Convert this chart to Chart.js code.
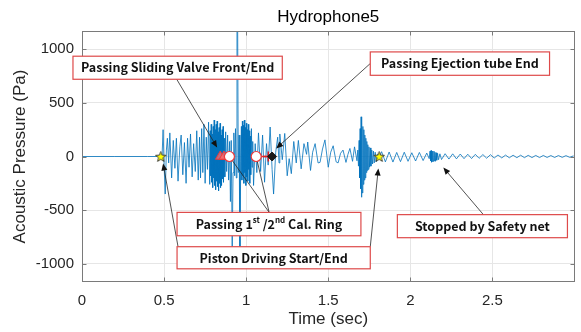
<!DOCTYPE html>
<html>
<head>
<meta charset="utf-8">
<script src="https://cdn.jsdelivr.net/npm/chart.js@4.4.0/dist/chart.umd.min.js"></script>
<style>
  html, body { margin: 0; padding: 0; background: #fff; }
  #wrap { width: 581px; height: 332px; }
</style>
</head>
<body>
<div id="wrap"><canvas id="chart" width="581" height="332"></canvas></div>
<script>
// Ticks del eje
const xTicks = [0, 0.5, 1, 1.5, 2, 2.5];
const yTicks = [-1000, -500, 0, 500, 1000];

// Señal del hidrófono, por tramos: [tiempo (s), presión (Pa)]
const preDrive = [[0, 0], [0.2, 0], [0.4, 0], [0.484, 0]];

const pistonRun = [
  [0.488, 20], [0.494, 250], [0.5, -80], [0.507, -350], [0.514, 60], [0.52, 170],
  [0.528, -60], [0.535, 220], [0.546, -200], [0.556, 150], [0.566, -110], [0.575, 170],
  [0.585, -230], [0.596, 90], [0.604, 200], [0.614, -170], [0.624, 130], [0.634, -250],
  [0.643, 170], [0.652, -100], [0.661, 210], [0.671, -190], [0.68, 120], [0.69, -140],
  [0.699, 240], [0.708, -220], [0.716, 180]
];

const valveZone = [
  [0.722, -200], [0.729, 260], [0.736, -150], [0.743, 300], [0.75, -250], [0.757, 180],
  [0.764, -120], [0.771, 320], [0.778, -260], [0.781, 240], [0.784, -180], [0.787, 300],
  [0.79, -240], [0.793, 210], [0.796, -290], [0.799, 280], [0.802, -200], [0.805, 340],
  [0.808, -270], [0.811, 250], [0.814, -310], [0.817, 300], [0.82, -230], [0.823, 330],
  [0.826, -280], [0.829, 230], [0.832, -320], [0.835, 270], [0.838, -250], [0.841, 310],
  [0.844, -290], [0.847, 200], [0.85, -270], [0.853, 250], [0.856, -210], [0.859, 280],
  [0.862, -240], [0.866, 170], [0.87, -190], [0.875, 230], [0.881, -140], [0.887, 200],
  [0.893, -220], [0.899, 140]
];

const spikeZone = [
  [0.904, -420], [0.909, 150], [0.915, -870], [0.92, -150], [0.925, 220], [0.93, -180],
  [0.935, 260], [0.94, -200], [0.944, 1350], [0.948, 1300], [0.952, -150], [0.957, 200],
  [0.962, -925], [0.967, -50], [0.971, 280]
];

const tubeZone = [
  [0.974, -220], [0.977, 330], [0.98, -180], [0.983, 290], [0.986, -250], [0.989, 340],
  [0.992, -150], [0.995, 270], [0.998, -270], [1.001, 310], [1.004, -190], [1.007, 250],
  [1.01, -230], [1.013, 300], [1.016, -120], [1.019, 240], [1.022, -250], [1.025, 190],
  [1.028, -170], [1.032, 260], [1.036, -100], [1.04, 140], [1.045, -270], [1.055, 120],
  [1.065, -150], [1.075, 220], [1.088, -140], [1.1, 200], [1.112, -240], [1.124, 120],
  [1.134, -80], [1.146, 275], [1.158, -120], [1.167, -350], [1.18, 40], [1.192, 180],
  [1.2, -60]
];

const decayZone = [
  [1.205, 210], [1.22, -30], [1.235, 215], [1.25, -180], [1.262, -20], [1.275, -160],
  [1.29, 140], [1.305, -60], [1.318, 150], [1.335, -115], [1.352, 120], [1.368, 20],
  [1.375, 135], [1.392, -130], [1.405, 40], [1.42, 120], [1.438, -60], [1.45, -55],
  [1.465, 70], [1.48, 155], [1.5, -100], [1.515, 40], [1.53, 100], [1.548, -50],
  [1.56, -60], [1.575, 30], [1.59, 60], [1.608, -55], [1.62, 20], [1.632, 75],
  [1.648, -45], [1.66, 90], [1.675, -40]
];

const exitBurst = [
  [1.68, 60], [1.684, -90], [1.688, 150], [1.691, -200], [1.694, 260], [1.697, -300],
  [1.7, 370], [1.702, -380], [1.705, 330], [1.708, -340], [1.711, 280], [1.714, -260],
  [1.717, 250], [1.72, -220], [1.723, 200], [1.726, -200], [1.729, 170], [1.732, -150],
  [1.735, 140], [1.738, -130], [1.741, 110], [1.744, -120], [1.748, 90], [1.752, -100],
  [1.756, 80], [1.76, -90], [1.765, 60], [1.77, -70], [1.775, 50], [1.78, -60],
  [1.786, 40], [1.792, -50], [1.8, 20]
];

const tailZone = [
  [1.812, 0], [1.825, 45], [1.848, -50], [1.871, 42], [1.894, -52], [1.917, 38],
  [1.94, -48], [1.963, 40], [1.986, -45], [2.009, 35], [2.032, -42], [2.055, 38],
  [2.078, -38], [2.1, 32], [2.115, -20]
];

const netZone = [
  [2.12, 50], [2.123, -40], [2.126, 56], [2.129, -53], [2.132, 50], [2.135, -50],
  [2.138, 45], [2.141, -45], [2.144, 50], [2.147, -40], [2.15, 40], [2.153, -45],
  [2.157, 35], [2.161, -35], [2.166, 30], [2.172, -30], [2.18, 25]
];

const endTail = [
  [2.19, -28], [2.212, 26], [2.235, -24], [2.258, 25], [2.281, -22], [2.304, 23],
  [2.327, -20], [2.35, 21], [2.373, -19], [2.396, 20], [2.419, -17], [2.442, 18],
  [2.465, -16], [2.488, 17], [2.511, -14], [2.534, 14], [2.557, -13], [2.58, 13],
  [2.603, -12], [2.626, 12], [2.649, -11], [2.672, 12], [2.695, -11], [2.718, 11],
  [2.741, -10], [2.764, 10], [2.787, -10], [2.81, 10], [2.833, -9], [2.856, 9],
  [2.879, -9], [2.902, 9], [2.925, -8], [2.948, 8], [2.971, -8], [2.994, 6]
];

// Marcadores de eventos
const pistonStars = [[0.48, 0], [1.81, 0]];
const valveTriangles = [[0.842, 0], [0.865, 0]];
const calRingCircles = [[0.898, 0], [1.061, 0]];
const tubeLink = [[1.061, 0], [1.135, 0]];
const tubePlus = [[1.135, 0]];
const tubeDiamond = [[1.158, 0]];

// Anotaciones (coordenadas en unidades de datos)
const noteBoxes = [
  { parts: [["Passing Sliding Valve Front/End", 0]], x0: -0.055, x1: 1.22, y0: 935, y1: 720 },
  { parts: [["Passing Ejection tube End", 0]], x0: 1.756, x1: 2.848, y0: 975, y1: 757 },
  { parts: [["Passing 1", 0], ["st", 1], [" /2", 0], ["nd", 1], [" Cal. Ring", 0]], x0: 0.579, x1: 1.699, y0: -521, y1: -739 },
  { parts: [["Piston Driving Start/End", 0]], x0: 0.579, x1: 1.756, y0: -841, y1: -1047 },
  { parts: [["Stopped by Safety net", 0]], x0: 1.921, x1: 2.957, y0: -542, y1: -757 }
];
const noteArrows = [
  { from: [0.577, 720], to: [0.823, 84], head: true },
  { from: [1.756, 867], to: [1.183, 75], head: true },
  { from: [1.14, -521], to: [0.898, 0], head: false },
  { from: [1.14, -521], to: [1.061, 0], head: false },
  { from: [0.585, -841], to: [0.494, -65], head: true },
  { from: [1.756, -841], to: [1.805, -112], head: true },
  { from: [2.445, -542], to: [2.201, -103], head: true }
];

const toXY = (arr) => arr.map(([x, y]) => ({ x, y }));

const signal = toXY([
  ...preDrive, ...pistonRun, ...valveZone, ...spikeZone, ...tubeZone,
  ...decayZone, ...exitBurst, ...tailZone, ...netZone, ...endTail
]);

/**
 * Estrella de cinco puntas como imagen para pointStyle
 */
const makePentagram = (r) => {
  const c = document.createElement("canvas");
  const s = Math.ceil(r * 2 + 4);
  c.width = s; c.height = s;
  const g = c.getContext("2d");
  g.translate(s / 2, s / 2 + 0.5);
  g.beginPath();
  for (let i = 0; i < 10; i++) {
    const rr = i % 2 === 0 ? r : r * 0.42;
    const a = -Math.PI / 2 + (i * Math.PI) / 5;
    g.lineTo(rr * Math.cos(a), rr * Math.sin(a));
  }
  g.closePath();
  g.fillStyle = "#ffff00";
  g.fill();
  g.lineWidth = 0.9;
  g.strokeStyle = "#333";
  g.stroke();
  return c;
};

const tickFont = { family: "'Liberation Sans', Arial, sans-serif", size: 15 };
const labelFont = { family: "'Liberation Sans', Arial, sans-serif", size: 17 };

// Marco estilo MATLAB: caja, ticks hacia dentro y título
const matlabFrame = {
  id: "matlabFrame",
  afterDraw(chart) {
    const { ctx, chartArea: a, scales: { x, y } } = chart;
    ctx.save();
    ctx.strokeStyle = "#7a7a7a";
    ctx.lineWidth = 1;
    const L = Math.round(a.left) + 0.5, R = Math.round(a.right) - 0.5;
    const T = Math.round(a.top) + 0.5, B = Math.round(a.bottom) - 0.5;
    ctx.strokeRect(L, T, R - L, B - T);
    const tl = 4;
    ctx.beginPath();
    xTicks.forEach((v) => {
      const px = Math.round(x.getPixelForValue(v)) + 0.5;
      ctx.moveTo(px, B); ctx.lineTo(px, B - tl);
      ctx.moveTo(px, T); ctx.lineTo(px, T + tl);
    });
    yTicks.forEach((v) => {
      const py = Math.round(y.getPixelForValue(v)) + 0.5;
      ctx.moveTo(L, py); ctx.lineTo(L + tl, py);
      ctx.moveTo(R, py); ctx.lineTo(R - tl, py);
    });
    ctx.stroke();

    ctx.fillStyle = "#000";
    ctx.font = `17px ${labelFont.family}`;
    ctx.textAlign = "center";
    ctx.textBaseline = "middle";
    ctx.fillText("Hydrophone5", (a.left + a.right) / 2, 17);
    ctx.restore();
  }
};

// Cajas de texto y flechas
const notes = {
  id: "notes",
  afterDraw(chart) {
    const { ctx, scales: { x, y } } = chart;
    const X = (v) => x.getPixelForValue(v);
    const Y = (v) => y.getPixelForValue(v);
    ctx.save();

    noteArrows.forEach(({ from, to, head }) => {
      const x0 = X(from[0]), y0 = Y(from[1]);
      let x1 = X(to[0]), y1 = Y(to[1]);
      const dx = x1 - x0, dy = y1 - y0, len = Math.hypot(dx, dy);
      const ux = dx / len, uy = dy / len;
      if (!head) { x1 -= ux * 5.5; y1 -= uy * 5.5; }
      ctx.strokeStyle = "#262626";
      ctx.lineWidth = 0.8;
      ctx.beginPath();
      ctx.moveTo(x0, y0);
      ctx.lineTo(head ? x1 - ux * 5 : x1, head ? y1 - uy * 5 : y1);
      ctx.stroke();
      if (head) {
        const hl = 7, hw = 3;
        ctx.fillStyle = "#111";
        ctx.beginPath();
        ctx.moveTo(x1, y1);
        ctx.lineTo(x1 - ux * hl - uy * hw, y1 - uy * hl + ux * hw);
        ctx.lineTo(x1 - ux * hl + uy * hw, y1 - uy * hl - ux * hw);
        ctx.closePath();
        ctx.fill();
      }
    });

    const fam = "'Noto Sans CJK KR', 'Open Sans', sans-serif";
    noteBoxes.forEach(({ parts, x0, x1, y0, y1 }) => {
      const l = X(x0), r = X(x1), t = Y(y0), b = Y(y1);
      ctx.fillStyle = "#fff";
      ctx.fillRect(l, t, r - l, b - t);
      ctx.strokeStyle = "#de4a4a";
      ctx.lineWidth = 1.2;
      ctx.strokeRect(l, t, r - l, b - t);

      const main = `bold 12.5px ${fam}`, sup = `bold 8px ${fam}`;
      let w = 0;
      parts.forEach(([s, isSup]) => { ctx.font = isSup ? sup : main; w += ctx.measureText(s).width; });
      let cx = (l + r) / 2 - w / 2;
      const cy = (t + b) / 2;
      ctx.fillStyle = "#111";
      ctx.textAlign = "left";
      ctx.textBaseline = "middle";
      parts.forEach(([s, isSup]) => {
        ctx.font = isSup ? sup : main;
        ctx.fillText(s, cx, isSup ? cy - 4 : cy);
        cx += ctx.measureText(s).width;
      });
    });
    ctx.restore();
  }
};

const markerSet = (data, style, extra) => ({
  data: toXY(data),
  showLine: false,
  pointStyle: style,
  order: 1,
  ...extra
});

new Chart(document.getElementById("chart"), {
  type: "scatter",
  data: {
    datasets: [
      markerSet(pistonStars, makePentagram(5.5), { pointRadius: 5 }),
      markerSet(tubeDiamond, "rectRot", { pointRadius: 4.5, backgroundColor: "#1a1a1a", borderColor: "#1a1a1a", borderWidth: 1 }),
      markerSet(tubePlus, "cross", { pointRadius: 5, borderColor: "#e02020", borderWidth: 1.5 }),
      markerSet(calRingCircles, "circle", { pointRadius: 5, backgroundColor: "#fff", borderColor: "#ee3a3a", borderWidth: 1.2 }),
      markerSet(valveTriangles, "triangle", { pointRadius: 5.5, backgroundColor: "rgba(255,110,110,0.75)", borderColor: "#ee3a3a", borderWidth: 1 }),
      {
        data: toXY(tubeLink),
        showLine: true,
        pointRadius: 0,
        borderColor: "#e83030",
        borderWidth: 1.3,
        order: 5
      },
      {
        data: signal,
        showLine: true,
        pointRadius: 0,
        borderColor: "#0072BD",
        borderWidth: 0.8,
        tension: 0,
        order: 10
      }
    ]
  },
  options: {
    responsive: false,
    animation: false,
    devicePixelRatio: 1,
    layout: { padding: { left: 0, right: 6, top: 31, bottom: 0 } },
    plugins: { legend: { display: false }, tooltip: { enabled: false } },
    scales: {
      x: {
        type: "linear",
        min: 0,
        max: 3,
        afterBuildTicks: (s) => { s.ticks = xTicks.map((value) => ({ value })); },
        afterFit: (s) => { s.height = 50; },
        grid: { color: "#e6e6e6", drawTicks: false },
        border: { display: false },
        ticks: { font: tickFont, color: "#262626", padding: 10, maxRotation: 0, callback: (v) => String(v) },
        title: { display: true, text: "Time (sec)", font: labelFont, color: "#262626", padding: { top: 0, bottom: 2 } }
      },
      y: {
        min: -1170,
        max: 1170,
        afterBuildTicks: (s) => { s.ticks = yTicks.map((value) => ({ value })); },
        afterFit: (s) => { s.width = 82; },
        grid: { color: "#e6e6e6", drawTicks: false },
        border: { display: false },
        ticks: { font: tickFont, color: "#262626", padding: 8, callback: (v) => String(v) },
        title: { display: true, text: "Acoustic Pressure (Pa)", font: labelFont, color: "#262626", padding: { top: 10, bottom: 0 } }
      }
    }
  },
  plugins: [matlabFrame, notes]
});
</script>
</body>
</html>
